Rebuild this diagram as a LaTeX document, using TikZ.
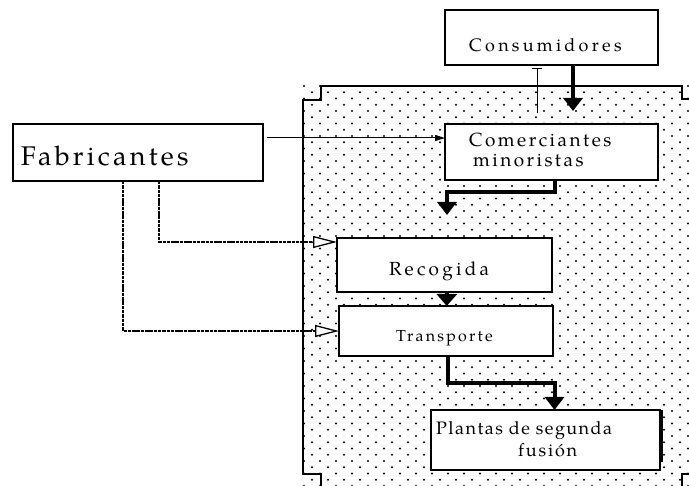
\documentclass[tikz,border=0pt]{standalone}
\usepackage{fontspec}
\setmainfont{texgyrepagella-regular.otf}
\usetikzlibrary{arrows.meta}
\newcommand{\lsp}[2]{\fontsize{#1}{#1}\selectfont\addfontfeatures{LetterSpace=#2}}
\begin{document}
\begin{tikzpicture}[x=1pt,y=-1pt,
  box/.style={draw, line width=1.6pt, fill=white, inner sep=0pt, outer sep=0pt, anchor=north west},
  lbl/.style={inner sep=0pt, anchor=base west, align=left},
  thickarrow/.style={line width=4pt, -{Triangle[length=13pt,width=19pt]}},
  thinarrow/.style={line width=1pt, -{Triangle[length=10pt,width=6pt]}},
  dashline/.style={line width=1.6pt, dash pattern=on 3.5pt off 0.8pt, -{Triangle[length=24pt,width=12pt,fill=white,line width=1.3pt]}},
  outline/.style={line width=1.8pt}
]
\useasboundingbox (0,0) rectangle (689,486);
% dotted area
\begin{scope}
\clip (0,0) rectangle (689,486);
\foreach \k in {0,...,64} {
  \pgfmathsetmacro\yy{86+6.25*\k}
  \pgfmathsetmacro\xo{mod(\k,2)*8}
  \foreach \i in {0,...,24} {
    \fill[black] (304+\xo+16*\i,\yy) circle (1.1pt);
  }
}
\draw[outline] (321,500) -- (321,474) -- (303,474) -- (303,100) -- (321,100) -- (321,86) -- (682,86) -- (682,99) -- (700,99);
\draw[outline] (700,474) -- (682,474) -- (682,500);
\end{scope}
% boxes
\node[box, minimum width=250pt, minimum height=57pt] (fab) at (13,124) {};
\node[box, minimum width=213pt, minimum height=55pt] (cons) at (445,10) {};
\node[box, minimum width=213pt, minimum height=56pt] (com) at (445,124) {};
\node[box, minimum width=215pt, minimum height=54pt] (rec) at (337,238) {};
\node[box, minimum width=214pt, minimum height=50pt] (tra) at (339,306) {};
\node[box, minimum width=229pt, minimum height=60pt] (pla) at (431,410) {};
\draw[line width=1.4pt] ([xshift=2pt]pla.north east) -- ++(0,52);
% labels
\node[lbl] (tfab) at (20.7,165.7) {\lsp{27}{12}Fabricantes};
\node[lbl] (tcons) at (469,52) {\lsp{18}{18}Consumidores};
\node[lbl] (tcom1) at (469,147) {\lsp{19}{13}Comerciantes};
\node[lbl] (tcom2) at (473,167) {\lsp{19}{13}minoristas};
\node[lbl] (trec) at (389,276) {\lsp{19}{17}Recogida};
\node[lbl] (ttra) at (396,342) {\lsp{16}{14}Transporte};
\node[lbl] (tpla1) at (436,435) {\lsp{18}{8}Plantas de segunda};
\node[lbl] (tpla2) at (518,456.7) {\lsp{18}{10}fusión};
% free ends
\coordinate (e1) at (573,111);
\coordinate (e2) at (447,215);
\coordinate (e3) at (537,112.7);
\coordinate (f1) at (267,138);
% connectors
\draw[thickarrow] ([xshift=21.5pt]cons.south) -- (e1);
\draw[line width=1pt, {Bar[width=10pt]}-] ([xshift=-14.5pt,yshift=-3pt]cons.south) -- (e3);
\draw[thinarrow] (f1) -- (f1 -| com.west);
\draw[thickarrow] ([xshift=3.5pt]com.south) -- ++(0,12) -| (e2);
\draw[line width=4pt, -{Triangle[length=12pt,width=20pt]}] ([xshift=2.3pt]rec.south) -- ([xshift=0.7pt]tra.north);
\draw[thickarrow] ([xshift=1.7pt]tra.south) -- ++(0,27) -| ([xshift=9pt]pla.north);
\draw[dashline] ([xshift=21pt]fab.south) |- ([yshift=-4pt]rec.north west);
\draw[dashline] ([xshift=-15pt]fab.south) |- (tra.west);
\end{tikzpicture}
\end{document}
